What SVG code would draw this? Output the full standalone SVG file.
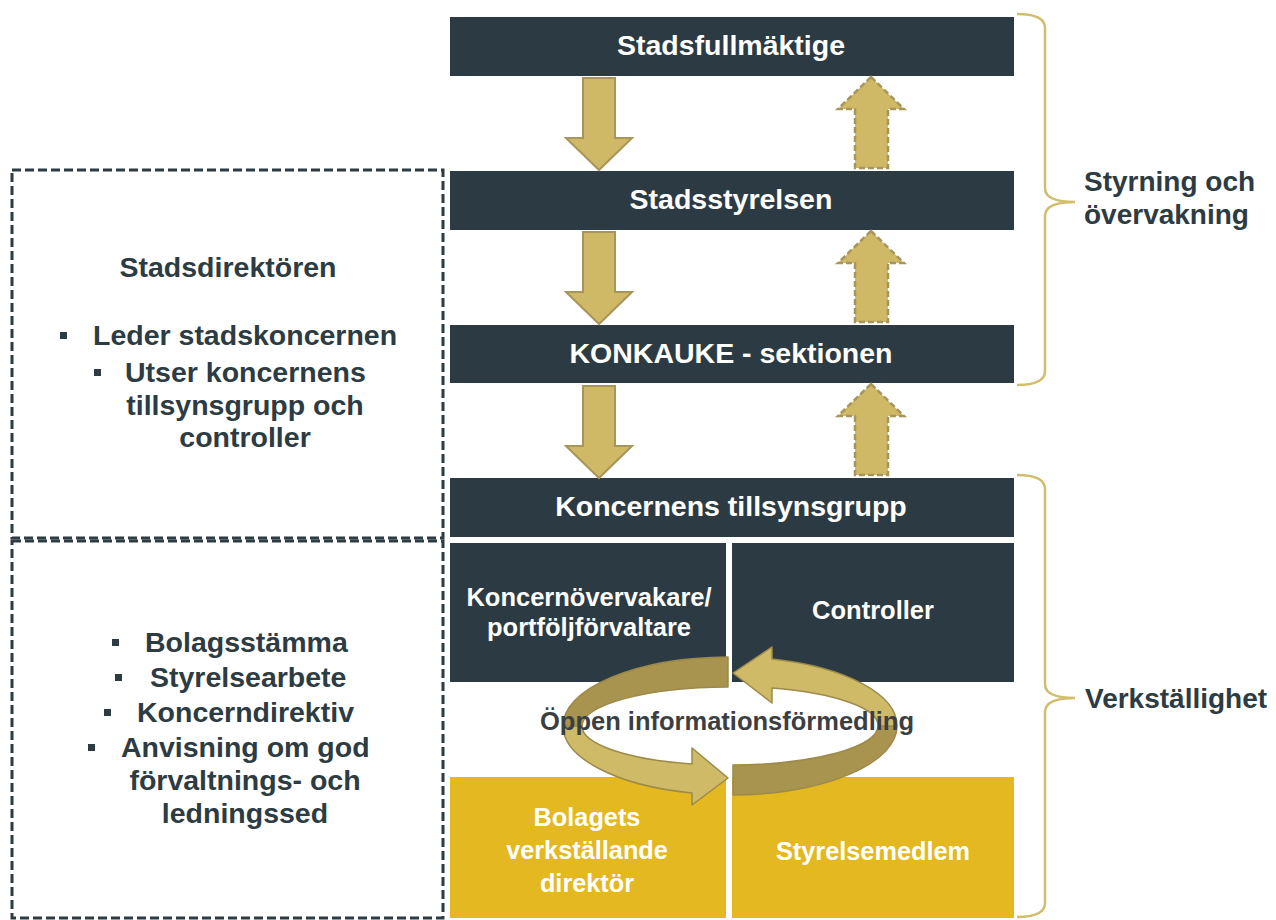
<svg xmlns="http://www.w3.org/2000/svg" xmlns:xlink="http://www.w3.org/1999/xlink" width="1276" height="920" viewBox="0 0 1276 920">
<style>
.box{fill:#2c3b43}
.ybox{fill:#e4b820}
.wt{font-family:"Liberation Sans",Arial,sans-serif;font-weight:bold;fill:#ffffff;text-anchor:middle}
.dt{font-family:"Liberation Sans",Arial,sans-serif;font-weight:bold;fill:#2d3b43}
.ct{text-anchor:middle}
.dash{fill:none;stroke:#2d3b43;stroke-width:3;stroke-dasharray:9 4}
.brace{fill:none;stroke:#d2bd6c;stroke-width:2.5}
.down{fill:#cfb966;stroke:#a8955a;stroke-width:2}
.up{fill:#cfb966;stroke:#a8955a;stroke-width:2.5;stroke-dasharray:6 3}
.bul{fill:#2d3b43}
</style>
<defs>
<path id="downArrow" d="M-16,0 H16 V60 H33 L0,92 L-33,60 H-16 Z"/>
<path id="upArrow" d="M0,0 L33,32 H17 V91 H-16 V32 H-33 Z"/>
</defs>
<rect width="1276" height="920" fill="#ffffff"/>

<g id="stadsdirektoren">
<rect class="dash" x="12" y="170" width="431" height="368"/>
<text class="dt ct" x="228" y="277" font-size="28.5">Stadsdirektören</text>
<rect class="bul" x="60" y="332" width="7" height="7"/>
<text class="dt" x="93" y="345" font-size="28.5">Leder stadskoncernen</text>
<rect class="bul" x="94" y="369" width="7" height="7"/>
<text class="dt" x="125" y="382" font-size="28.5">Utser koncernens</text>
<text class="dt ct" x="245" y="415" font-size="28.5">tillsynsgrupp och</text>
<text class="dt ct" x="245" y="447" font-size="28.5">controller</text>
</g>

<g id="bolagsstyrning">
<rect class="dash" x="12" y="541" width="431" height="377"/>
<rect class="bul" x="112" y="639" width="7" height="7"/>
<text class="dt" x="145" y="652" font-size="28.5">Bolagsstämma</text>
<rect class="bul" x="115" y="674" width="7" height="7"/>
<text class="dt" x="150" y="687" font-size="28.5">Styrelsearbete</text>
<rect class="bul" x="104" y="709" width="7" height="7"/>
<text class="dt" x="137" y="722" font-size="28.5">Koncerndirektiv</text>
<rect class="bul" x="88" y="744" width="7" height="7"/>
<text class="dt" x="121" y="757" font-size="28.5">Anvisning om god</text>
<text class="dt ct" x="245" y="790" font-size="28.5">förvaltnings- och</text>
<text class="dt ct" x="245" y="823" font-size="28.5">ledningssed</text>
</g>

<g id="stadsfullmaktige">
<rect class="box" x="450" y="17" width="564" height="59"/>
<text class="wt" x="731" y="55" font-size="28.5">Stadsfullmäktige</text>
</g>
<g id="stadsstyrelsen">
<rect class="box" x="450" y="171" width="564" height="59"/>
<text class="wt" x="731" y="209" font-size="28.5">Stadsstyrelsen</text>
</g>
<g id="konkauke">
<rect class="box" x="450" y="325" width="564" height="58"/>
<text class="wt" x="731" y="363" font-size="28.5">KONKAUKE - sektionen</text>
</g>
<g id="tillsynsgrupp">
<rect class="box" x="450" y="478" width="564" height="59"/>
<text class="wt" x="731" y="516" font-size="28.5">Koncernens tillsynsgrupp</text>
</g>
<g id="koncernovervakare">
<rect class="box" x="450" y="543" width="276" height="139"/>
<text class="wt" x="589" y="606" font-size="25.5">Koncernövervakare/</text>
<text class="wt" x="589" y="636" font-size="25.5">portföljförvaltare</text>
</g>
<g id="controller">
<rect class="box" x="732" y="543" width="282" height="139"/>
<text class="wt" x="873" y="619" font-size="25.5">Controller</text>
</g>
<g id="vd">
<rect class="ybox" x="450" y="777" width="276" height="141"/>
<text class="wt" x="587" y="826" font-size="25.3">Bolagets</text>
<text class="wt" x="587" y="859" font-size="25.3">verkställande</text>
<text class="wt" x="587" y="892" font-size="25.3">direktör</text>
</g>
<g id="styrelsemedlem">
<rect class="ybox" x="732" y="777" width="282" height="141"/>
<text class="wt" x="873" y="860" font-size="25.3">Styrelsemedlem</text>
</g>

<g id="connectors">
<use xlink:href="#downArrow" class="down" x="599" y="78"/>
<use xlink:href="#upArrow" class="up" x="871" y="77"/>
<use xlink:href="#downArrow" class="down" x="599" y="232"/>
<use xlink:href="#upArrow" class="up" x="871" y="231"/>
<use xlink:href="#downArrow" class="down" x="599" y="386"/>
<use xlink:href="#upArrow" class="up" x="871" y="384"/>

<g id="cycle" stroke="#9c8a4a" stroke-width="1.5" stroke-linejoin="round">
<path fill="#a8934f" d="M728,657 A167,69 0 0 0 563,726 L582,726 A148,39 0 0 1 728,687 Z"/>
<path fill="#cfba68" d="M563,726 A167,69 0 0 0 692,793 L692,805 L728,778 L692,748 L692,764 A148,39 0 0 1 582,726 Z"/>
<path fill="#a8934f" d="M733,795 A167,69 0 0 0 897,726 L878,726 A148,39 0 0 1 733,765 Z"/>
<path fill="#cfba68" d="M897,726 A167,69 0 0 0 772,659 L772,647 L733,673 L772,703 L772,688 A148,39 0 0 1 878,726 Z"/>
</g>

<path class="brace" d="M1017,14 Q1045,14 1045,28 L1045,188 Q1045,202 1075,202 Q1045,202 1045,216 L1045,371 Q1045,385 1017,385"/>
<path class="brace" d="M1017,475 Q1045,475 1045,489 L1045,684 Q1045,698 1075,698 Q1045,698 1045,712 L1045,903 Q1045,917 1017,917"/>
</g>

<g id="label-info">
<text class="ct" x="727" y="730" font-size="25.5" font-family="Liberation Sans, Arial, sans-serif" font-weight="bold" fill="#3b3f42">Öppen informationsförmedling</text>
</g>
<g id="label-styrning">
<text class="dt" x="1084" y="191" font-size="28">Styrning och</text>
<text class="dt" x="1084" y="224" font-size="28">övervakning</text>
</g>
<g id="label-verk">
<text class="dt" x="1085" y="708" font-size="28">Verkställighet</text>
</g>
</svg>
